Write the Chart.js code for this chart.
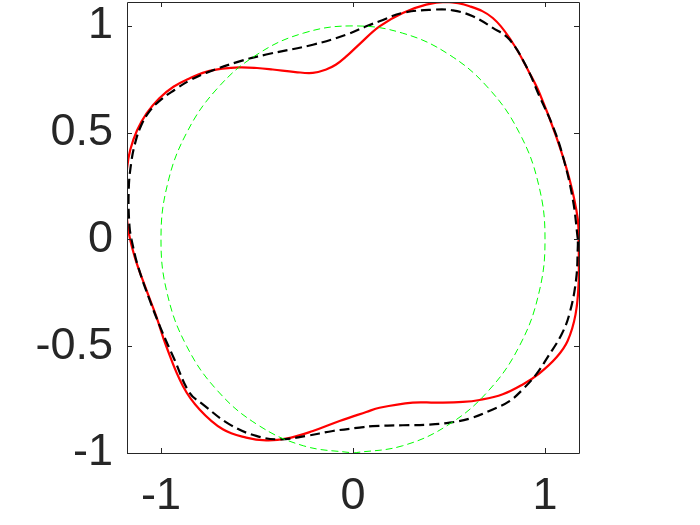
<!DOCTYPE html>
<html>
<head>
<meta charset="utf-8">
<script src="https://cdn.jsdelivr.net/npm/chart.js@4.4.1/dist/chart.umd.min.js"></script>
<style>
  html, body { margin: 0; padding: 0; background: #fff; }
  #wrap { width: 700px; height: 525px; }
</style>
</head>
<body>
<div id="wrap"><canvas id="grafico" width="700" height="525"></canvas></div>
<script>
// tick positions
const xTicks = [-1, 0, 1];
const yTicks = [-1, -0.5, 0, 0.5, 1];

// red solid curve (closed loop)
const redX = [1.176, 1.171, 1.128, 1.058, 0.971, 0.919, 0.832, 0.728, 0.607, 0.485, 0.381, 0.259, 0.138, 0.034, -0.035, -0.090, -0.140, -0.209, -0.300, -0.418, -0.500, -0.591, -0.680, -0.765, -0.850, -0.935, -1.010, -1.075, -1.125, -1.160, -1.177, -1.181, -1.173, -1.138, -1.077, -1.025, -0.973, -0.886, -0.799, -0.678, -0.556, -0.452, -0.348, -0.209, -0.070, 0.069, 0.138, 0.311, 0.433, 0.572, 0.659, 0.780, 0.884, 0.971, 1.060, 1.117, 1.159, 1.176, 1.176];
const redY = [-0.031, 0.094, 0.281, 0.483, 0.686, 0.780, 0.920, 1.037, 1.092, 1.112, 1.100, 1.061, 0.998, 0.915, 0.857, 0.818, 0.796, 0.780, 0.784, 0.796, 0.803, 0.806, 0.800, 0.785, 0.755, 0.715, 0.660, 0.590, 0.510, 0.420, 0.330, 0.234, 0.062, -0.078, -0.234, -0.359, -0.499, -0.686, -0.796, -0.889, -0.928, -0.941, -0.933, -0.897, -0.850, -0.808, -0.788, -0.764, -0.764, -0.761, -0.752, -0.725, -0.679, -0.627, -0.552, -0.477, -0.351, -0.187, -0.031];

// black dashed curve
const blackX = [1.171, 1.145, 1.093, 1.041, 0.971, 0.902, 0.815, 0.728, 0.624, 0.520, 0.416, 0.259, 0.138, 0.069, -0.035, -0.209, -0.452, -0.591, -0.765, -0.850, -0.930, -1.000, -1.060, -1.105, -1.135, -1.155, -1.168, -1.164, -1.148, -1.120, -1.060, -0.999, -0.930, -0.852, -0.782, -0.643, -0.504, -0.383, -0.244, -0.105, 0.034, 0.103, 0.259, 0.398, 0.503, 0.607, 0.728, 0.815, 0.884, 0.954, 1.013, 1.086, 1.128, 1.162, 1.171, 1.171];
const blackY = [0, 0.187, 0.390, 0.530, 0.671, 0.811, 0.936, 0.991, 1.045, 1.073, 1.076, 1.061, 1.022, 0.998, 0.959, 0.912, 0.866, 0.834, 0.780, 0.745, 0.700, 0.655, 0.600, 0.530, 0.450, 0.360, 0.234, 0.062, -0.023, -0.125, -0.281, -0.421, -0.562, -0.717, -0.772, -0.866, -0.920, -0.936, -0.920, -0.897, -0.881, -0.874, -0.870, -0.867, -0.858, -0.839, -0.796, -0.757, -0.702, -0.632, -0.552, -0.445, -0.346, -0.187, -0.031, 0];

// green dashed reference circle (unit circle, 15 degree steps)
const circleX = [0, 0.259, 0.5, 0.707, 0.866, 0.966, 1, 0.966, 0.866, 0.707, 0.5, 0.259, 0, -0.259, -0.5, -0.707, -0.866, -0.966, -1, -0.966, -0.866, -0.707, -0.5, -0.259, 0];
const circleY = [-1, -0.966, -0.866, -0.707, -0.5, -0.259, 0, 0.259, 0.5, 0.707, 0.866, 0.966, 1, 0.966, 0.866, 0.707, 0.5, 0.259, 0, -0.259, -0.5, -0.707, -0.866, -0.966, -1];

const xMin = -1.177, xMax = 1.177;
const yMin = -1.0, yMax = 1.112;

const pontos = (xs, ys) => xs.map((v, i) => ({ x: v, y: ys[i] }));

const eixoCor = '#262626';
const fonteTick = { family: 'Liberation Sans, Arial, Helvetica, sans-serif', size: 45 };

// box around the plot with inward ticks on all four sides
const caixaPlugin = {
  id: 'caixa',
  afterDraw(chart) {
    const { ctx, chartArea: a, scales } = chart;
    const tl = 5;
    ctx.save();
    ctx.strokeStyle = eixoCor;
    ctx.lineWidth = 1;
    ctx.beginPath();
    ctx.rect(Math.round(a.left) + 0.5, Math.round(a.top) + 0.5, Math.round(a.right - a.left), Math.round(a.bottom - a.top));
    xTicks.forEach(v => {
      const px = Math.round(scales.x.getPixelForValue(v)) + 0.5;
      ctx.moveTo(px, a.bottom); ctx.lineTo(px, a.bottom - tl);
      ctx.moveTo(px, a.top); ctx.lineTo(px, a.top + tl);
    });
    yTicks.forEach(v => {
      const py = Math.round(scales.y.getPixelForValue(v)) + 0.5;
      ctx.moveTo(a.left, py); ctx.lineTo(a.left + tl, py);
      ctx.moveTo(a.right, py); ctx.lineTo(a.right - tl, py);
    });
    ctx.stroke();
    ctx.restore();
  }
};

new Chart(document.getElementById('grafico').getContext('2d'), {
  type: 'scatter',
  data: {
    datasets: [{
      label: 'circulo',
      data: pontos(circleX, circleY),
      showLine: true,
      borderColor: '#00ff00',
      borderWidth: 1,
      borderDash: [7, 4],
      pointRadius: 0,
      tension: 0.4
    }, {
      label: 'tracejado',
      data: pontos(blackX, blackY),
      showLine: true,
      borderColor: '#000000',
      borderWidth: 2.2,
      borderDash: [10, 5],
      pointRadius: 0,
      tension: 0.4
    }, {
      label: 'vermelho',
      data: pontos(redX, redY),
      showLine: true,
      borderColor: '#ff0000',
      borderWidth: 2.2,
      pointRadius: 0,
      tension: 0.4
    }]
  },
  options: {
    responsive: false,
    animation: false,
    layout: { padding: { left: 0, right: 121, top: 2, bottom: 0 } },
    plugins: { legend: { display: false }, tooltip: { enabled: false } },
    scales: {
      x: {
        type: 'linear',
        min: xMin,
        max: xMax,
        grid: { display: false, drawTicks: false },
        border: { display: false },
        afterBuildTicks: s => { s.ticks = xTicks.map(v => ({ value: v })); },
        afterFit: s => { s.height = 72; s.paddingLeft = 0; s.paddingRight = 0; },
        ticks: { color: eixoCor, font: fonteTick, padding: 17, maxRotation: 0, callback: v => String(v) }
      },
      y: {
        type: 'linear',
        min: yMin,
        max: yMax,
        grid: { display: false, drawTicks: false },
        border: { display: false },
        afterBuildTicks: s => { s.ticks = yTicks.map(v => ({ value: v })); },
        afterFit: s => { s.width = 127; s.paddingTop = 0; s.paddingBottom = 0; },
        ticks: { color: eixoCor, font: fonteTick, padding: 14, callback: v => String(v) }
      }
    }
  },
  plugins: [caixaPlugin]
});
</script>
</body>
</html>
